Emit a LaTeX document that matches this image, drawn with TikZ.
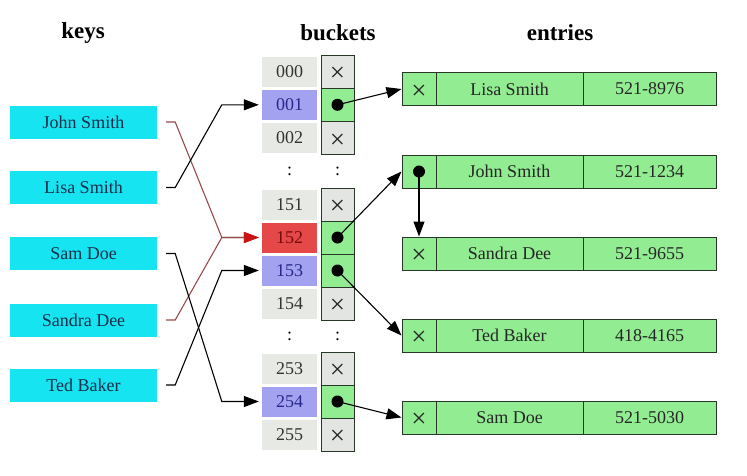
\documentclass[tikz,border=0pt]{standalone}
\usepackage{fontspec}
\setmainfont{Liberation Serif}
\usetikzlibrary{arrows.meta}
\definecolor{keycyan}{RGB}{22,228,240}
\definecolor{keytext}{RGB}{25,45,75}
\definecolor{cellgray}{RGB}{230,233,228}
\definecolor{ptrgray}{RGB}{226,229,225}
\definecolor{lav}{RGB}{162,162,240}
\definecolor{hotred}{RGB}{228,72,72}
\definecolor{darkred}{RGB}{120,10,10}
\definecolor{numblue}{RGB}{40,40,140}
\definecolor{entgreen}{RGB}{146,236,146}
\definecolor{bord}{RGB}{40,55,40}
\definecolor{redline}{RGB}{150,75,75}
\definecolor{redtip}{RGB}{200,20,20}
\begin{document}
\begin{tikzpicture}[x=1pt,y=-1pt,
  txt/.style={font=\fontsize{18}{20}\selectfont},
  xmk/.style={font=\fontsize{27}{28}\selectfont,inner sep=0pt,text=black!85,yshift=-3pt},
  title/.style={font=\fontsize{23}{26}\selectfont\bfseries},
  keybox/.style={txt,fill=keycyan,minimum width=147pt,minimum height=33pt,inner sep=0pt,text=keytext},
  numcell/.style={txt,fill=cellgray,minimum width=55pt,minimum height=30pt,inner sep=0pt,text=black!80},
  ptrcell/.style={draw=bord,line width=1pt,fill=ptrgray,minimum width=33pt,minimum height=33pt,inner sep=0pt},
  ptrfull/.style={ptrcell,fill=entgreen},
  entcell/.style={txt,draw=bord,line width=1pt,fill=entgreen,minimum height=33pt,inner sep=0pt,text=black!85},
  dotmark/.style={circle,fill=black,inner sep=0pt,minimum size=12pt},
  keyline/.style={line width=1.1pt,-{Triangle[length=15pt,width=11pt]}},
  redkey/.style={line width=1.1pt,draw=redline,-{Triangle[length=15pt,width=11pt,color=redtip]}},
  ptrline/.style={line width=1.1pt,-{Triangle[length=15pt,width=11pt]}}
]
\useasboundingbox (0,0) rectangle (747,475);

% titles
\node[title] (tkeys) at (83,33) {keys};
\node[title] (tbuckets) at (338,33) {buckets};
\node[title] (tentries) at (560,33) {entries};

% keys
\node[keybox] (kjohn) at (83.5,122) {John Smith};
\node[keybox] (klisa) at (83.5,187.5) {Lisa Smith};
\node[keybox] (ksam) at (83.5,253.5) {Sam Doe};
\node[keybox] (ksandra) at (83.5,320) {Sandra Dee};
\node[keybox] (kted) at (83.5,385) {Ted Baker};

% bucket numbers
\node[numcell] (n000) at (289.5,71.5) {000};
\node[numcell,fill=lav,text=numblue] (n001) at (289.5,104.8) {001};
\node[numcell] (n002) at (289.5,138) {002};
\node[txt] (dots1a) at (289.5,171) {:};
\node[numcell] (n151) at (289.5,204.5) {151};
\node[numcell,fill=hotred,text=darkred] (n152) at (289.5,237.5) {152};
\node[numcell,fill=lav,text=numblue] (n153) at (289.5,270.5) {153};
\node[numcell] (n154) at (289.5,303.5) {154};
\node[txt] (dots2a) at (289.5,336) {:};
\node[numcell] (n253) at (289.5,368.5) {253};
\node[numcell,fill=lav,text=numblue] (n254) at (289.5,401.5) {254};
\node[numcell] (n255) at (289.5,434.5) {255};

% bucket pointers
\node[ptrcell] (p000) at (337.5,71.5) {};
\node[ptrfull] (p001) at (337.5,104.8) {};
\node[ptrcell] (p002) at (337.5,138) {};
\node[txt] (dots1b) at (337.5,171) {:};
\node[ptrcell] (p151) at (337.5,204.5) {};
\node[ptrfull] (p152) at (337.5,237.5) {};
\node[ptrfull] (p153) at (337.5,270.5) {};
\node[ptrcell] (p154) at (337.5,303.5) {};
\node[txt] (dots2b) at (337.5,336) {:};
\node[ptrcell] (p253) at (337.5,368.5) {};
\node[ptrfull] (p254) at (337.5,401.5) {};
\node[ptrcell] (p255) at (337.5,434.5) {};

\foreach \c in {p000,p002,p151,p154,p253,p255}{
  \node[xmk] (x\c) at (\c.center) {×};
}

\node[dotmark] (d001) at (p001.center) {};
\node[dotmark] (d152) at (p152.center) {};
\node[dotmark] (d153) at (p153.center) {};
\node[dotmark] (d254) at (p254.center) {};

% entries
\foreach \id/\y/\name/\phone in {elisa/89/Lisa Smith/521-8976, ejohn/171.5/John Smith/521-1234, esandra/253.5/Sandra Dee/521-9655, eted/335.5/Ted Baker/418-4165, esam/417.5/Sam Doe/521-5030}{
  \node[entcell,minimum width=34pt] (\id p) at (419,\y) {};
  \node[entcell,minimum width=147pt] (\id n) at (509.5,\y) {\name};
  \node[entcell,minimum width=133pt] (\id t) at (649.5,\y) {\phone};
}
\node[xmk] (xlisa) at (elisap.center) {×};
\node[dotmark] (djohn) at (ejohnp.center) {};
\node[xmk] (xsandra) at (esandrap.center) {×};
\node[xmk] (xted) at (etedp.center) {×};
\node[xmk] (xsam) at (esamp.center) {×};

% key -> bucket connectors
\draw[redkey] ([xshift=9pt]kjohn.east) -- ++(9,0) -- ([xshift=-40pt]n152.west) -- ([xshift=-3pt]n152.west);
\draw[redkey] ([xshift=9pt]ksandra.east) -- ++(9,0) -- ([xshift=-40pt]n152.west) -- ([xshift=-3pt]n152.west);
\draw[keyline] ([xshift=9pt]klisa.east) -- ++(9,0) -- ([xshift=-40pt]n001.west) -- ([xshift=-3pt]n001.west);
\draw[keyline] ([xshift=9pt]ksam.east) -- ++(9,0) -- ([xshift=-40pt]n254.west) -- ([xshift=-3pt]n254.west);
\draw[keyline] ([xshift=9pt]kted.east) -- ++(9,0) -- ([xshift=-40pt]n153.west) -- ([xshift=-3pt]n153.west);

% bucket -> entry connectors
\draw[ptrline] (d001.center) -- (elisap.west);
\draw[ptrline] (d152.center) -- (ejohnp.west);
\draw[ptrline] (d153.center) -- (etedp.west);
\draw[ptrline] (d254.center) -- (esamp.west);
\draw[ptrline] (djohn.center) -- (esandrap.north);
\end{tikzpicture}
\end{document}
